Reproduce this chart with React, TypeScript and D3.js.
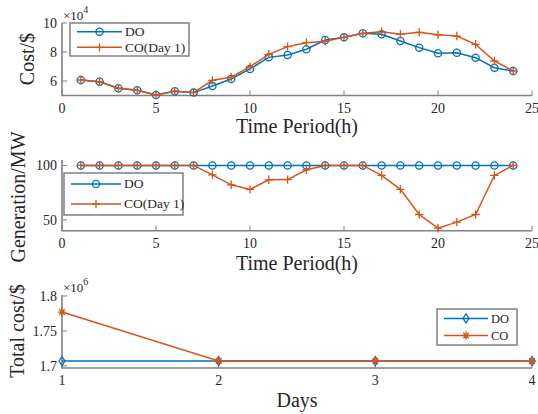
import React from "react";
import * as d3 from "d3";

const hours = d3.range(1, 25);
const costDO = [6.07, 5.95, 5.5, 5.36, 5.03, 5.3, 5.2, 5.65, 6.14, 6.83, 7.63, 7.79, 8.19, 8.83, 9.01, 9.29, 9.22, 8.76, 8.3, 7.91, 7.95, 7.61, 6.92, 6.69];
const costCO = [6.07, 5.95, 5.5, 5.36, 5.03, 5.3, 5.2, 6.05, 6.26, 6.99, 7.84, 8.37, 8.64, 8.74, 9.01, 9.29, 9.4, 9.22, 9.36, 9.19, 9.1, 8.53, 7.38, 6.69];
const genDO = [100, 100, 100, 100, 100, 100, 100, 100, 100, 100, 100, 100, 100, 100, 100, 100, 100, 100, 100, 100, 100, 100, 100, 100];
const genCO = [100, 100, 100, 100, 100, 100, 100, 91.4, 82.2, 78, 86.8, 87, 96, 100, 100, 100, 90.8, 78, 54.9, 42.3, 47.9, 54.9, 90.8, 100];
const days = [1, 2, 3, 4];
const totalDO = [1.707, 1.707, 1.707, 1.707];
const totalCO = [1.777, 1.707, 1.707, 1.707];

const hourTicks = [0, 5, 10, 15, 20, 25];
const costTicks = [6, 8, 10];
const genTicks = [50, 100];
const totalTicks = [1.7, 1.75, 1.8];

const BLUE = "#0072BD";
const ORANGE = "#D95319";
const AXIS = "#808080";
const TXT = "#262626";
const FONT = "'Liberation Serif', 'Times New Roman', serif";
const ts = (size: number): React.CSSProperties => ({ fontFamily: FONT, fontSize: size, fill: TXT });

const X0 = 62, X1 = 532;

function Circle({ x, y }: { x: number; y: number }) {
  return <circle cx={x} cy={y} r={3.6} fill="none" stroke={BLUE} strokeWidth={1.3} />;
}
function Plus({ x, y }: { x: number; y: number }) {
  const s = 4.2;
  return <path d={`M${x - s},${y}H${x + s}M${x},${y - s}V${y + s}`} stroke={ORANGE} strokeWidth={1.3} fill="none" />;
}
function Diamond({ x, y }: { x: number; y: number }) {
  const s = 4.5;
  return <path d={`M${x},${y - s}L${x + 3},${y}L${x},${y + s}L${x - 3},${y}Z`} stroke={BLUE} strokeWidth={1.3} fill="none" />;
}
function Star({ x, y }: { x: number; y: number }) {
  const s = 4;
  const d = s * 0.7;
  return <path d={`M${x - s},${y}H${x + s}M${x},${y - s}V${y + s}M${x - d},${y - d}L${x + d},${y + d}M${x - d},${y + d}L${x + d},${y - d}`} stroke={ORANGE} strokeWidth={1.3} fill="none" />;
}

type Marker = (p: { x: number; y: number }) => React.ReactElement;

function Series({ xs, ys, x, y, color, M }: { xs: number[]; ys: number[]; x: d3.ScaleLinear<number, number>; y: d3.ScaleLinear<number, number>; color: string; M: Marker }) {
  const pts: [number, number][] = xs.map((v, i) => [x(v), y(ys[i])]);
  const line = d3.line();
  return (
    <g>
      <path d={line(pts) || ""} fill="none" stroke={color} strokeWidth={1.5} />
      {pts.map((p, i) => <M key={i} x={p[0]} y={p[1]} />)}
    </g>
  );
}

function Axes({ x, y, xt, yt, top, bottom }: { x: d3.ScaleLinear<number, number>; y: d3.ScaleLinear<number, number>; xt: number[]; yt: number[]; top: number; bottom: number }) {
  return (
    <g>
      <path d={`M${X0},${top}V${bottom}H${X1}`} fill="none" stroke={AXIS} strokeWidth={1.6} />
      {xt.map((t) => (
        <g key={"x" + t}>
          <line x1={x(t)} x2={x(t)} y1={bottom} y2={bottom - 5} stroke={AXIS} strokeWidth={1} />
          <text x={x(t)} y={bottom + 17} textAnchor="middle" style={ts(14)}>{String(t)}</text>
        </g>
      ))}
      {yt.map((t) => (
        <g key={"y" + t}>
          <line x1={X0} x2={X0 + 5} y1={y(t)} y2={y(t)} stroke={AXIS} strokeWidth={1} />
          <text x={X0 - 5} y={y(t) + 5} textAnchor="end" style={ts(14)}>{String(t)}</text>
        </g>
      ))}
    </g>
  );
}

function Legend({ x, y, w, h, items, fs, lineLen }: { x: number; y: number; w: number; h: number; items: { label: string; color: string; M: Marker }[]; fs: number; lineLen: number }) {
  const step = h / (items.length + 0.1);
  return (
    <g>
      <rect x={x} y={y} width={w} height={h} fill="#fff" stroke={AXIS} strokeWidth={1.5} />
      {items.map((it, i) => {
        const cy = y + step * (i + 0.55);
        const M = it.M;
        return (
          <g key={i}>
            <line x1={x + 7} x2={x + 7 + lineLen} y1={cy} y2={cy} stroke={it.color} strokeWidth={1.5} />
            <M x={x + 7 + lineLen / 2} y={cy} />
            <text x={x + 10 + lineLen} y={cy + fs * 0.33} style={ts(fs)}>{it.label}</text>
          </g>
        );
      })}
    </g>
  );
}

export default function App() {
  const xH = d3.scaleLinear().domain([0, 25]).range([X0, X1]);
  const yCost = d3.scaleLinear().domain([5, 10]).range([95.5, 23]);
  const yGen = d3.scaleLinear().domain([40, 105]).range([230.7, 160]);
  const xD = d3.scaleLinear().domain([1, 4]).range([X0, X1]);
  const yTot = d3.scaleLinear().domain([1.697, 1.8]).range([368, 296]);

  return (
    <svg width={538} height={414} style={{ position: "absolute", left: 0, top: 0, background: "#fff" }}>
      {/* Panel 1 */}
      <Axes x={xH} y={yCost} xt={hourTicks} yt={costTicks} top={23} bottom={95.5} />
      <Series xs={hours} ys={costDO} x={xH} y={yCost} color={BLUE} M={Circle} />
      <Series xs={hours} ys={costCO} x={xH} y={yCost} color={ORANGE} M={Plus} />
      <text x={63} y={20} style={ts(13)}>×10<tspan dy={-7} style={{ fontSize: 10 }}>4</tspan></text>
      <Legend x={70} y={23} w={119} h={33} fs={13.5} lineLen={45} items={[{ label: "DO", color: BLUE, M: Circle }, { label: "CO(Day 1)", color: ORANGE, M: Plus }]} />
      <text transform="translate(34,59) rotate(-90)" textAnchor="middle" style={ts(20)}>Cost/$</text>
      <text x={297} y={133} textAnchor="middle" style={ts(20)}>Time Period(h)</text>

      {/* Panel 2 */}
      <Axes x={xH} y={yGen} xt={hourTicks} yt={genTicks} top={160} bottom={230.7} />
      <Series xs={hours} ys={genDO} x={xH} y={yGen} color={BLUE} M={Circle} />
      <Series xs={hours} ys={genCO} x={xH} y={yGen} color={ORANGE} M={Plus} />
      <Legend x={64} y={173} w={119} h={42} fs={13.5} lineLen={50} items={[{ label: "DO", color: BLUE, M: Circle }, { label: "CO(Day 1)", color: ORANGE, M: Plus }]} />
      <text transform="translate(25,197) rotate(-90)" textAnchor="middle" style={ts(20)}>Generation/MW</text>
      <text x={297} y={270} textAnchor="middle" style={ts(20)}>Time Period(h)</text>

      {/* Panel 3 */}
      <Axes x={xD} y={yTot} xt={days} yt={totalTicks} top={295} bottom={368} />
      <Series xs={days} ys={totalDO} x={xD} y={yTot} color={BLUE} M={Diamond} />
      <Series xs={days} ys={totalCO} x={xD} y={yTot} color={ORANGE} M={Star} />
      <text x={63} y={292} style={ts(13)}>×10<tspan dy={-7} style={{ fontSize: 10 }}>6</tspan></text>
      <Legend x={437} y={309} w={80} h={36} fs={12.5} lineLen={44} items={[{ label: "DO", color: BLUE, M: Diamond }, { label: "CO", color: ORANGE, M: Star }]} />
      <text transform="translate(24,331) rotate(-90)" textAnchor="middle" style={ts(20)}>Total cost/$</text>
      <text x={297} y={407} textAnchor="middle" style={ts(20)}>Days</text>
    </svg>
  );
}
